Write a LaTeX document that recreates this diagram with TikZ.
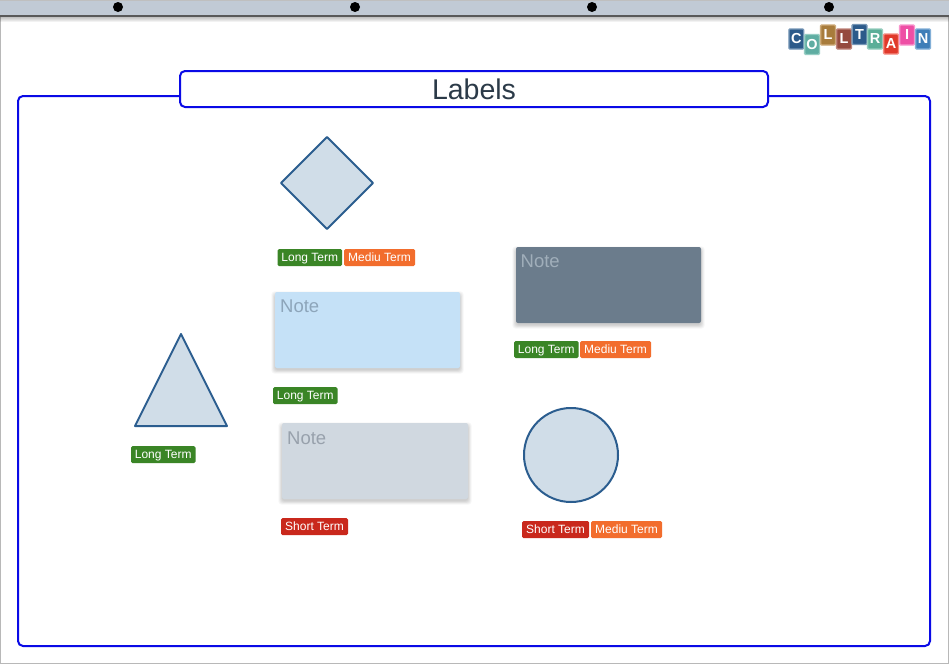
\documentclass[tikz,border=0pt]{standalone}
\usepackage{fontspec}
\setmainfont{Liberation Sans}
\usetikzlibrary{shapes.geometric}
\definecolor{framec}{HTML}{0A0AE6}
\definecolor{shapef}{HTML}{D0DDE8}
\definecolor{shapes}{HTML}{2B5D8F}
\definecolor{greent}{HTML}{3A8526}
\definecolor{oranget}{HTML}{F26D2D}
\definecolor{redt}{HTML}{C9281C}
\definecolor{barc}{HTML}{C1CAD5}
\definecolor{noteblue}{HTML}{C5E1F7}
\definecolor{notedark}{HTML}{6B7C8C}
\definecolor{notegrey}{HTML}{D0D8E0}
\definecolor{txtblue}{HTML}{8DA5BA}
\definecolor{txtdark}{HTML}{A0AEBA}
\definecolor{txtgrey}{HTML}{98A1AC}
\definecolor{titlec}{HTML}{2B3A48}
\tikzset{
  frameline/.style={draw=framec,line width=2pt,rounded corners=5pt,outer sep=0pt},
  pshape/.style={draw=shapes,fill=shapef,line width=2pt,line join=round,outer sep=0pt},
  tagbox/.style={rounded corners=1.5pt,inner sep=0pt,minimum height=17pt,text=white,font=\fontsize{12}{13}\selectfont,text depth=0pt,anchor=west,outer sep=0pt},
  notebox/.style={rounded corners=2pt,minimum width=185pt,minimum height=76pt,inner sep=0pt,anchor=north west,outer sep=0pt},
  notetext/.style={font=\fontsize{18.5}{20}\selectfont,anchor=north west,inner sep=0pt},
  hole/.style={circle,fill=black,inner sep=0pt,minimum size=10pt},
  tile/.style={minimum width=14.8pt,minimum height=20pt,inner sep=0pt,rounded corners=1pt,line width=1.3pt,text=white,font=\fontsize{14.5}{15}\selectfont\bfseries},
}
\newcommand{\softshadow}[4]{%
  \foreach \k in {6,5,...,0}{
    \fill[black,opacity=0.028,rounded corners=3pt] (#1-\k*0.6,#2+3-\k*0.6) rectangle (#3+\k*0.6,#4+2+\k*0.6);
  }}
\begin{document}
\begin{tikzpicture}[x=1pt,y=-1pt]
\useasboundingbox (0,0) rectangle (949,664);
\fill[white] (0,0) rectangle (949,664);
% sheet edge
\draw[black!28,line width=1pt] (0.5,0) -- (0.5,663.5) -- (948.5,663.5) -- (948.5,0);
% top bar shadow
\foreach \k in {0,1,...,5}{
  \fill[black,opacity=0.05] (0,16) rectangle (949,17+\k);
}
\fill[barc] (0,0) rectangle (949,15);
\fill[black!25] (0,0) rectangle (949,1);
\fill[black!65] (0,15) rectangle (949,17);
\node[hole] (h1) at (118,7) {};
\node[hole] (h2) at (355,7) {};
\node[hole] (h3) at (592,7) {};
\node[hole] (h4) at (829,7) {};
% logo
\node[tile,fill={rgb,255:red,44;green,90;blue,138},draw={rgb,255:red,118;green,150;blue,182}] (l1) at (796.3,39) {C};
\node[tile,fill={rgb,255:red,95;green,173;blue,162},draw={rgb,255:red,150;green,205;blue,195}] (l2) at (812,44.5) {O};
\node[tile,fill={rgb,255:red,168;green,124;blue,60},draw={rgb,255:red,205;green,170;blue,120}] (l3) at (828,35) {L};
\node[tile,fill={rgb,255:red,149;green,74;blue,62},draw={rgb,255:red,190;green,130;blue,120}] (l4) at (844,39) {L};
\node[tile,fill={rgb,255:red,44;green,90;blue,138},draw={rgb,255:red,118;green,150;blue,182}] (l5) at (859.5,34.5) {T};
\node[tile,fill={rgb,255:red,91;green,174;blue,152},draw={rgb,255:red,150;green,205;blue,190}] (l6) at (875,39) {R};
\node[tile,fill={rgb,255:red,224;green,57;blue,43},draw={rgb,255:red,245;green,140;blue,130}] (l7) at (891,44) {A};
\node[tile,fill={rgb,255:red,238;green,79;blue,165},draw={rgb,255:red,248;green,150;blue,205}] (l8) at (907,35) {I};
\node[tile,fill={rgb,255:red,63;green,126;blue,184},draw={rgb,255:red,130;green,175;blue,215}] (l9) at (923,39) {N};
% frame and title
\node[frameline,minimum width=912pt,minimum height=550pt,inner sep=0pt,anchor=north west] (frame) at (18,96) {};
\node[frameline,fill=white,minimum width=588pt,minimum height=36pt,inner sep=0pt,anchor=north west,text=titlec,font=\fontsize{28.5}{30}\selectfont] (title) at (180,71) {Labels};
% shapes
\draw[pshape] (327,137) -- (373,183) -- (327,229) -- (281,183) -- cycle;
\draw[pshape] (181,334) -- (227,426) -- (135,426) -- cycle;
\node[circle,pshape,minimum size=94pt,inner sep=0pt] (circ) at (571,455) {};
% notes
\softshadow{275}{292}{460}{368}
\node[notebox,fill=noteblue] (n1) at (275,292) {};
\node[notetext,text=txtblue] (n1t) at (280,300) {Note};
\softshadow{516}{247}{701}{323}
\node[notebox,fill=notedark] (n2) at (516,247) {};
\node[notetext,text=txtdark] (n2t) at (520.5,255) {Note};
\softshadow{282}{423}{468}{499}
\node[notebox,fill=notegrey,minimum width=186pt] (n3) at (282,423) {};
\node[notetext,text=txtgrey] (n3t) at (287,431.5) {Note};
% tags
\node[tagbox,fill=greent,minimum width=64.5pt] (t1) at (277.5,257.5) {Long Term};
\node[tagbox,fill=oranget,minimum width=71pt] (t2) at (344,257.5) {Mediu Term};
\node[tagbox,fill=greent,minimum width=64.5pt] (t3) at (273,395.5) {Long Term};
\node[tagbox,fill=greent,minimum width=64.5pt] (t4) at (514,349.5) {Long Term};
\node[tagbox,fill=oranget,minimum width=71pt] (t5) at (580,349.5) {Mediu Term};
\node[tagbox,fill=greent,minimum width=64.5pt] (t6) at (131,454.5) {Long Term};
\node[tagbox,fill=redt,minimum width=67pt] (t7) at (281,526.5) {Short Term};
\node[tagbox,fill=redt,minimum width=67pt] (t8) at (522,529.5) {Short Term};
\node[tagbox,fill=oranget,minimum width=71pt] (t9) at (591,529.5) {Mediu Term};
\end{tikzpicture}
\end{document}
